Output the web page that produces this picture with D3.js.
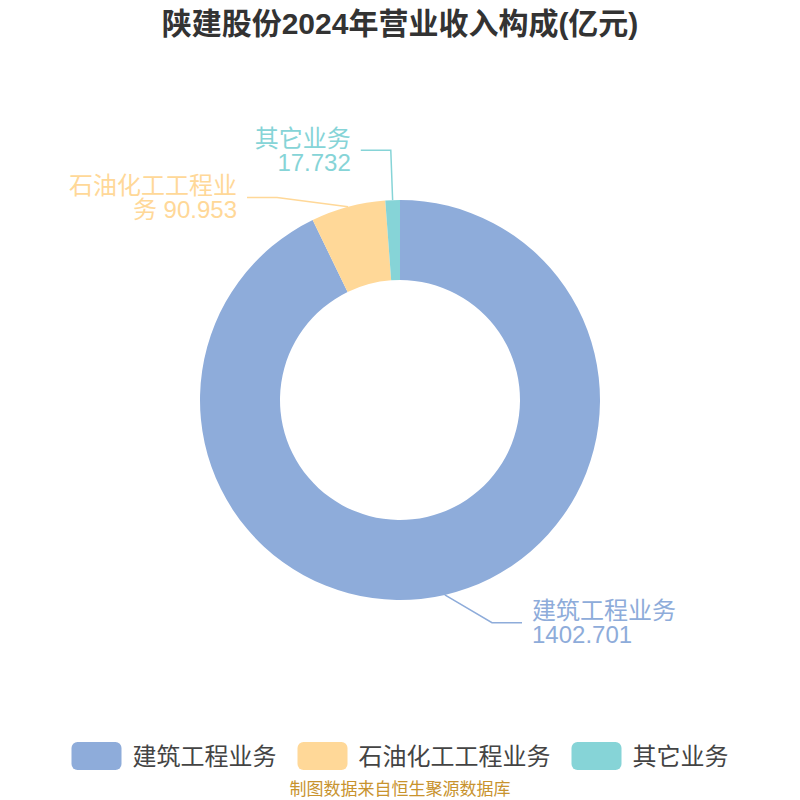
<!DOCTYPE html>
<html><head><meta charset="utf-8">
<script src="https://cdn.jsdelivr.net/npm/d3@7/dist/d3.min.js"></script>
<style>body{margin:0;background:#fff}svg{display:block}text{font-family:"Liberation Sans","Noto Sans CJK SC",sans-serif}</style>
</head><body><svg id="c" width="800" height="800"></svg>
<script>
const title = "陕建股份2024年营业收入构成(亿元)";
const categories = ["建筑工程业务", "石油化工工程业务", "其它业务"];
const values = [1402.701, 90.953, 17.732];
const labelLines = [["建筑工程业务", "1402.701"], ["石油化工工程业", "务 90.953"], ["其它业务", "17.732"]];
const colors = ["#8eacda", "#ffd898", "#86d4d7"];
const source = "制图数据来自恒生聚源数据库";

const svg = d3.select("#c");
const cx = 400, cy = 400, R = 200, r0 = 120;

svg.append("text").attr("x", 400).attr("y", 23).attr("text-anchor", "middle")
  .attr("dominant-baseline", "central").attr("font-size", 30).attr("font-weight", "bold")
  .attr("fill", "#333").text(title);

const pie = d3.pie().sort(null).value(d => d)(values);
const arc = d3.arc().innerRadius(r0).outerRadius(R);
const g = svg.append("g").attr("transform", `translate(${cx},${cy})`);
g.selectAll("path").data(pie).join("path").attr("d", arc).attr("fill", (d, i) => colors[i]);

// label layout (elbow radius/angle adjusted to avoid overlap)
const pol = (a, rr) => [Math.sin(a) * rr, -Math.cos(a) * rr];
const layout = [
  {r: 241, da: -9.5, side: 1},
  {r: 237, da: -16.2, side: -1},
  {r: 250, da: 0, side: -1}
];
pie.forEach((d, i) => {
  const mid = (d.startAngle + d.endAngle) / 2;
  const L = layout[i];
  const p0 = pol(mid, R);
  const p1 = pol(mid + L.da * Math.PI / 180, L.r);
  const p2 = [p1[0] + L.side * 30, p1[1]];
  g.append("polyline").attr("points", [p0, p1, p2].map(p => p.join(",")).join(" "))
    .attr("fill", "none").attr("stroke", colors[i]).attr("stroke-width", 1.5);
  labelLines[i].forEach((ln, k) => {
    g.append("text").attr("fill", colors[i]).attr("font-size", 24)
      .attr("text-anchor", L.side > 0 ? "start" : "end")
      .attr("x", p2[0] + L.side * 10).attr("y", p2[1] + (k === 0 ? -12 : 12))
      .attr("dominant-baseline", "central").text(ln);
  });
});

// legend
const leg = svg.append("g");
let x = 0;
categories.forEach((c, i) => {
  const it = leg.append("g").attr("transform", `translate(${x},0)`);
  it.append("rect").attr("x", 0).attr("y", 742).attr("width", 50).attr("height", 28)
    .attr("rx", 6).attr("fill", colors[i]);
  const t = it.append("text").attr("x", 61).attr("y", 756).attr("dominant-baseline", "central")
    .attr("font-size", 24).attr("fill", "#444").text(c);
  x += 61 + t.node().getComputedTextLength() + 21;
});
const total = x - 21;
leg.attr("transform", `translate(${(800 - total) / 2},0)`);

svg.append("text").attr("x", 400).attr("y", 789).attr("text-anchor", "middle")
  .attr("dominant-baseline", "central").attr("font-size", 17).attr("fill", "#c8932e").text(source);
</script></body></html>
